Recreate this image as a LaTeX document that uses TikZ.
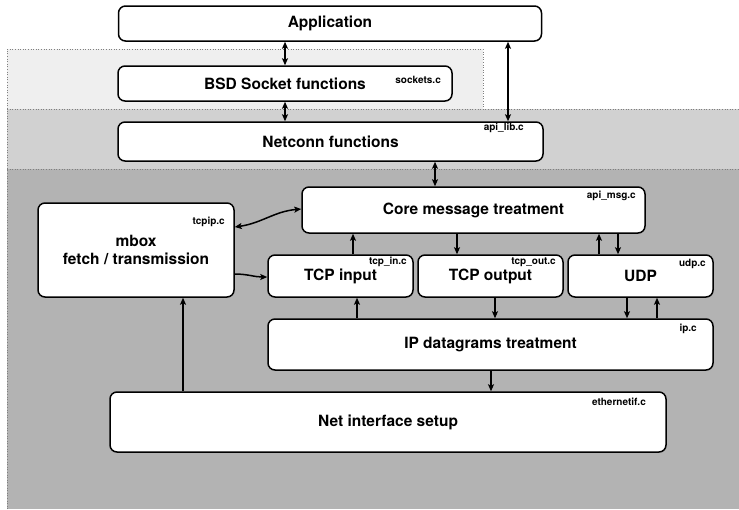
\documentclass[tikz,border=0pt]{standalone}
\usepackage{fontspec}
\setmainfont{TeX Gyre Heros}
\usetikzlibrary{arrows.meta}
\definecolor{layerA}{HTML}{EFEFEF}
\definecolor{layerB}{HTML}{D1D1D1}
\definecolor{layerC}{HTML}{B3B3B3}
\begin{document}
\begin{tikzpicture}[x=1pt,y=-1pt,
  box/.style={draw, line width=1.5pt, rounded corners=7pt, fill=white, inner sep=0pt,
    font=\fontsize{15.5}{18}\selectfont\bfseries, align=center},
  fname/.style={font=\fontsize{10}{12}\selectfont\bfseries, inner sep=0pt, anchor=east},
  arr/.style={line width=1.5pt, -{Stealth[length=7pt,width=6pt,inset=1.5pt]}},
  darr/.style={line width=1.5pt, {Stealth[length=7pt,width=6pt,inset=1.5pt]}-{Stealth[length=7pt,width=6pt,inset=1.5pt]}},
  layer/.style={draw=gray, dotted, line width=0.6pt}]
\useasboundingbox (0,0) rectangle (739,509);
% layers
\fill[layerC] (7,169) rectangle (739,509);
\fill[layerB] (7,109) rectangle (739,169);
\fill[layerA] (7,49) rectangle (483,109);
\draw[layer] (7,509) -- (7,49) -- (483,49) -- (483,109);
\draw[layer] (7,109) -- (739,109);
\draw[layer] (7,169) -- (739,169);
% boxes
\node[box, minimum width=423, minimum height=35] (app) at (330,23.5) {Application};
\node[box, minimum width=334, minimum height=35] (bsd) at (285,83.5) {BSD Socket functions};
\node[box, minimum width=425, minimum height=39] (net) at (330.5,141.5) {Netconn functions};
\node[box, minimum width=343, minimum height=46] (core) at (473.5,210) {Core message treatment};
\node[box, minimum width=196, minimum height=94] (mbox) at (136,250) {mbox\\fetch / transmission};
\node[box, minimum width=145, minimum height=42] (tcpin) at (340.5,276) {TCP input};
\node[box, minimum width=145, minimum height=42] (tcpout) at (490.5,276) {TCP output};
\node[box, minimum width=145, minimum height=42] (udp) at (640.5,276) {UDP};
\node[box, minimum width=445, minimum height=51] (ip) at (490.5,344.5) {IP datagrams treatment};
\node[box, minimum width=556, minimum height=60] (eth) at (388,422) {Net interface setup};
% file names
\node[fname] (fsock) at (441,80) {sockets.c};
\node[fname] (fapilib) at (524,128) {api\_lib.c};
\node[fname] (fapimsg) at (636,196) {api\_msg.c};
\node[fname] (ftcpip) at (225,222) {tcpip.c};
\node[fname] (ftcpin) at (407,262) {tcp\_in.c};
\node[fname] (ftcpout) at (556,262) {tcp\_out.c};
\node[fname] (fudp) at (706,264) {udp.c};
\node[fname] (fip) at (697,329) {ip.c};
\node[fname] (feth) at (646,402) {ethernetif.c};
% x positions of connectors
\coordinate (xa) at (285,0);
\coordinate (xb) at (508,0);
\coordinate (xc) at (435,0);
\coordinate (xd) at (353,0);
\coordinate (xe) at (457,0);
\coordinate (xf) at (599,0);
\coordinate (xg) at (618,0);
\coordinate (xh) at (495,0);
\coordinate (xi) at (627,0);
\coordinate (xj) at (657,0);
\coordinate (xk) at (357,0);
\coordinate (xl) at (183,0);
\coordinate (xm) at (491,0);
\coordinate (ya) at (0,227);
\coordinate (yb) at (0,209);
\coordinate (yc) at (0,274);
\coordinate (yd) at (0,277);
% connectors
\draw[darr] (app.south -| xa) -- (bsd.north -| xa);
\draw[darr] (bsd.south -| xa) -- (net.north -| xa);
\draw[darr] (app.south -| xb) -- (net.north -| xb);
\draw[darr] (net.south -| xc) -- (core.north -| xc);
\draw[darr] (mbox.east |- ya) to[out=8,in=185] (core.west |- yb);
\draw[arr] (mbox.east |- yc) to[out=0,in=180] (tcpin.west |- yd);
\draw[arr] (tcpin.north -| xd) -- (core.south -| xd);
\draw[arr] (core.south -| xe) -- (tcpout.north -| xe);
\draw[arr] (udp.north -| xf) -- (core.south -| xf);
\draw[arr] (core.south -| xg) -- (udp.north -| xg);
\draw[arr] (tcpout.south -| xh) -- (ip.north -| xh);
\draw[arr] (udp.south -| xi) -- (ip.north -| xi);
\draw[arr] (ip.north -| xj) -- (udp.south -| xj);
\draw[arr] (ip.north -| xk) -- (tcpin.south -| xk);
\draw[arr] (eth.north -| xl) -- (mbox.south -| xl);
\draw[arr] (ip.south -| xm) -- (eth.north -| xm);
\end{tikzpicture}
\end{document}
